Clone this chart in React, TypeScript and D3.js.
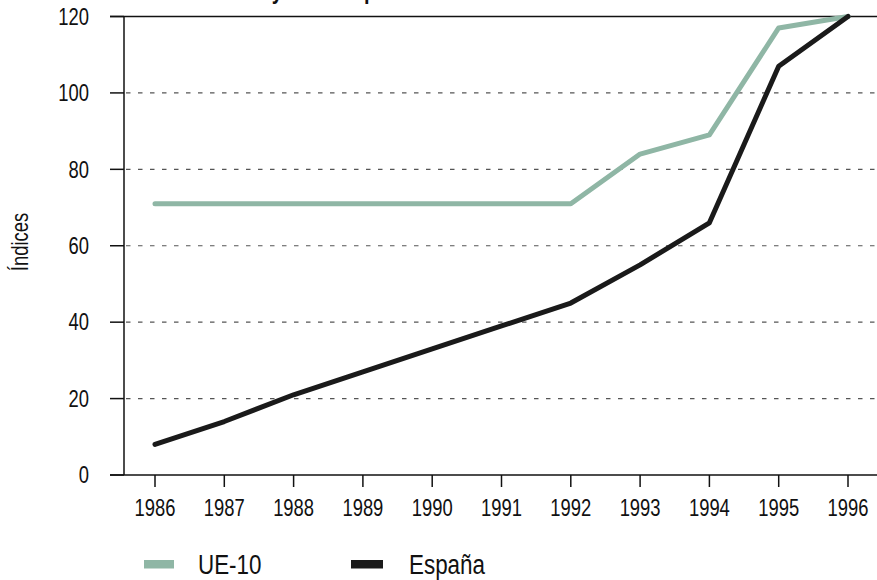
import React from "react";
import * as d3 from "d3";

const years = ["1986", "1987", "1988", "1989", "1990", "1991", "1992", "1993", "1994", "1995", "1996"];
const ue10 = [71, 71, 71, 71, 71, 71, 71, 84, 89, 117, 120];
const espana = [8, 14, 21, 27, 33, 39, 45, 55, 66, 107, 120];
const yTicks = [0, 20, 40, 60, 80, 100, 120];
const seriesNames = ["UE-10", "España"];
const titleText = "Índices de la UE-10 y la de España";

const W = 877;
const H = 580;
const FONT = "'Liberation Sans', Arial, sans-serif";
const GREEN = "#8fb6a5";
const BLACK = "#1a1a1a";
const NARROW = 0.8;

type NTProps = {
  x: number;
  y: number;
  size: number;
  anchor?: "start" | "middle" | "end";
  weight?: string;
  rotate?: number;
  children: React.ReactNode;
};

function NText({ x, y, size, anchor = "start", weight = "normal", rotate = 0, children }: NTProps) {
  const tr = rotate
    ? `translate(${x},${y}) rotate(${rotate}) scale(${NARROW},1)`
    : `translate(${x},${y}) scale(${NARROW},1)`;
  return (
    <text transform={tr} textAnchor={anchor} fontSize={size} fontWeight={weight} fill="#111" fontFamily={FONT}>
      {children}
    </text>
  );
}

export default function App() {
  const x = d3.scalePoint<string>().domain(years).range([155, 848]);
  const y = d3.scaleLinear().domain([0, 120]).range([475, 16.5]);
  const line = d3
    .line<number>()
    .x((_, i) => x(years[i]) as number)
    .y((d) => y(d));

  const axisLeft = 124;
  const tickStart = 110;

  return (
    <svg
      width={W}
      height={H}
      style={{ position: "absolute", left: 0, top: 0, display: "block", background: "#fff" }}
      fontFamily={FONT}
    >
      <rect x={0} y={0} width={W} height={H} fill="#fff" />
      <NText x={84} y={-1} size={25} weight="bold">
        {titleText}
      </NText>

      {/* gridlines */}
      {yTicks.filter((t) => t > 0 && t < 120).map((t) => (
        <line
          key={t}
          x1={axisLeft + 2}
          x2={W}
          y1={y(t)}
          y2={y(t)}
          stroke="#555"
          strokeWidth={1.2}
          strokeDasharray="4.5,7.5"
        />
      ))}
      <line x1={tickStart} x2={W} y1={y(120)} y2={y(120)} stroke="#111" strokeWidth={1.5} />
      <line x1={tickStart} x2={W} y1={y(0)} y2={y(0)} stroke="#111" strokeWidth={1.5} />
      <line x1={axisLeft} x2={axisLeft} y1={y(120)} y2={y(0)} stroke="#111" strokeWidth={1.5} />

      {/* y ticks */}
      {yTicks.map((t) => (
        <g key={t}>
          <line x1={tickStart} x2={axisLeft} y1={y(t)} y2={y(t)} stroke="#111" strokeWidth={1.5} />
          <NText x={89} y={y(t) + 8.2} anchor="end" size={23}>
            {t}
          </NText>
        </g>
      ))}

      {/* x ticks */}
      {years.map((yr) => (
        <g key={yr}>
          <line x1={x(yr)} x2={x(yr)} y1={y(0)} y2={y(0) + 12} stroke="#111" strokeWidth={1.5} />
          <NText x={x(yr) as number} y={516} anchor="middle" size={23}>
            {yr}
          </NText>
        </g>
      ))}

      <NText x={28} y={242} anchor="middle" size={23} rotate={-90}>
        Índices
      </NText>

      <path d={line(ue10) || ""} fill="none" stroke={GREEN} strokeWidth={5} strokeLinecap="round" strokeLinejoin="round" />
      <path d={line(espana) || ""} fill="none" stroke={BLACK} strokeWidth={5} strokeLinecap="round" strokeLinejoin="round" />

      {/* legend */}
      <rect x={144} y={560} width={30} height={8.5} fill={GREEN} />
      <NText x={198} y={574} size={28}>{seriesNames[0]}</NText>
      <rect x={351} y={560} width={32} height={8.5} fill={BLACK} />
      <NText x={409} y={574} size={28}>{seriesNames[1]}</NText>
    </svg>
  );
}
